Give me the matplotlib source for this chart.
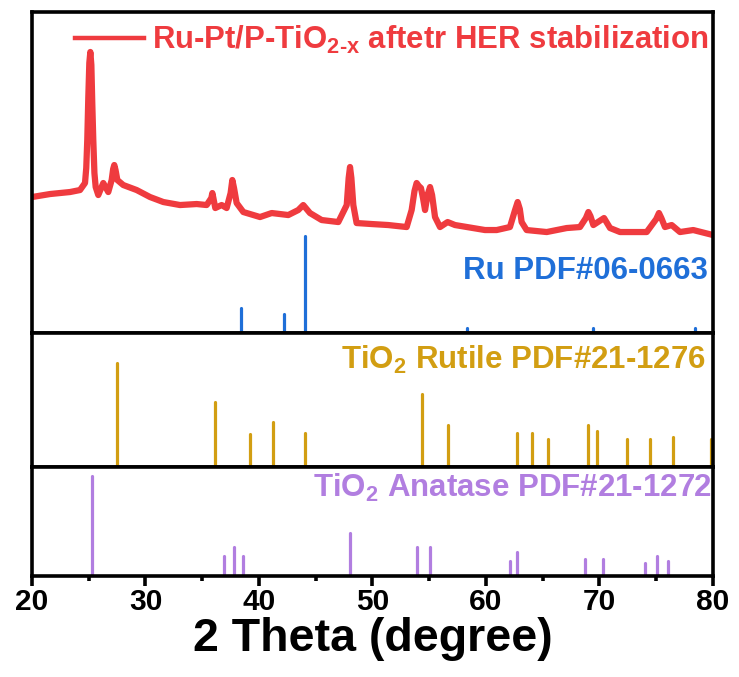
import matplotlib
matplotlib.use("Agg")
import matplotlib.pyplot as plt
from matplotlib.ticker import MultipleLocator

plt.rcParams['font.family'] = ['Liberation Sans', 'DejaVu Sans']
plt.rcParams['font.weight'] = 'bold'
plt.rcParams['mathtext.fontset'] = 'custom'
plt.rcParams['mathtext.rm'] = 'Liberation Sans:bold'
plt.rcParams['mathtext.it'] = 'Liberation Sans:bold'
plt.rcParams['mathtext.bf'] = 'Liberation Sans:bold'

# measured pattern after HER stability test (2theta, intensity a.u.)
xrd_2theta = [20.0, 21.59, 23.35, 24.23, 24.67, 24.78, 24.87, 24.96, 25.05, 25.14,
              25.23, 25.31, 25.4, 25.5, 25.61, 25.84, 26.28, 26.72, 27.02, 27.15,
              27.25, 27.36, 27.52, 28.04, 29.22, 30.40, 31.57, 33.04, 34.51, 35.39,
              35.8, 35.89, 35.98, 36.15, 36.71, 37.15, 37.5, 37.65, 37.8, 38.03,
              38.62, 40.09, 41.12, 42.58, 43.46, 43.9, 44.49, 45.52, 46.99, 47.73,
              47.9, 48.02, 48.14, 48.31, 48.6, 49.93, 51.39, 53.01, 53.45, 53.7,
              53.89, 54.08, 54.27, 54.45, 54.63, 54.85, 55.07, 55.25, 55.51, 55.95,
              56.62, 57.27, 59.91, 60.94, 62.11, 62.56, 62.79, 62.98, 63.14, 63.58,
              65.35, 67.11, 68.28, 68.8, 69.02, 69.2, 69.46, 70.4, 70.93, 71.81,
              74.16, 75.0, 75.24, 75.45, 75.77, 76.36, 77.09, 78.26, 80.0]
xrd_counts = [136, 139, 141, 143, 150, 165, 193, 235, 270, 281,
              268, 230, 193, 160, 146, 138, 150, 141, 153, 164,
              168, 163, 153, 148, 143, 136, 131, 128, 129, 128,
              135, 140, 135, 125, 128, 125, 140, 153, 145, 130,
              121, 116, 120, 118, 123, 128, 120, 113, 111, 128,
              155, 166, 155, 128, 110, 109, 108, 106, 123, 142,
              150, 147, 145, 135, 123, 138, 146, 138, 116, 106,
              111, 108, 103, 103, 106, 123, 131, 124, 111, 103,
              101, 105, 106, 115, 121, 117, 108, 115, 105, 101,
              101, 114, 120, 115, 106, 108, 101, 103, 98]

# reference cards
ru_pos = [38.4, 42.2, 44.05, 58.3, 69.4, 78.4]
ru_int = [25, 19, 97, 5, 5, 5]

rutile_pos = [27.45, 36.09, 39.19, 41.24, 44.05, 54.32, 56.64, 62.74, 64.04,
              65.48, 69.01, 69.79, 72.41, 74.41, 76.51, 79.82]
rutile_int = [104, 65, 33, 45, 34, 73, 42, 34, 34, 28, 42, 36, 28, 28, 30, 28]

anatase_pos = [25.28, 36.95, 37.8, 38.58, 48.05, 53.89, 55.06, 62.12, 62.69,
               68.76, 70.31, 74.03, 75.03, 76.02]
anatase_int = [100, 20, 29, 20, 43, 29, 29, 15, 24, 17, 17, 13, 20, 15]

red = '#EF3B3F'
blue = '#1F6FD8'
gold = '#D29E12'
purple = '#B17EE0'

fig = plt.figure(figsize=(7.39, 6.77), dpi=100)
gs = fig.add_gridspec(3, 1, height_ratios=[321, 134, 109], hspace=0,
                      left=0.0433, right=0.9648, top=0.9823, bottom=0.149)
ax1 = fig.add_subplot(gs[0])
ax2 = fig.add_subplot(gs[1], sharex=ax1)
ax3 = fig.add_subplot(gs[2], sharex=ax1)

ax1.plot(xrd_2theta, xrd_counts, color=red, lw=4.5, solid_joinstyle='round',
         label=r'Ru-Pt/P-TiO$_{\text{2-x}}$ aftetr HER stabilization')
sticks = ax1.vlines(ru_pos, 0, ru_int, color=blue, lw=2.3)
sticks.set_capstyle('round')
ax1.set_ylim(0, 321)
ax1.text(0.993, 54, 'Ru PDF#06-0663', color=blue, fontsize=22.5,
         ha='right', va='baseline', transform=ax1.get_yaxis_transform())
leg = ax1.legend(loc='upper right', bbox_to_anchor=(0.993, 0.962), frameon=False,
                 fontsize=22.4, labelcolor='linecolor', handlelength=2.2,
                 handletextpad=0.25, borderaxespad=0, borderpad=0)
for h in leg.legend_handles:
    h.set_linewidth(3.2)

sticks = ax2.vlines(rutile_pos, 0, rutile_int, color=gold, lw=2.3)
sticks.set_capstyle('round')
ax2.set_ylim(0, 134)
ax2.text(0.99, 98, 'TiO$_2$ Rutile PDF#21-1276', color=gold, fontsize=22.5,
         ha='right', va='baseline', transform=ax2.get_yaxis_transform())

sticks = ax3.vlines(anatase_pos, 0, anatase_int, color=purple, lw=2.3)
sticks.set_capstyle('round')
ax3.set_ylim(0, 109)
ax3.text(0.999, 79, 'TiO$_2$ Anatase PDF#21-1272', color=purple, fontsize=22.5,
         ha='right', va='baseline', transform=ax3.get_yaxis_transform())

for ax in (ax1, ax2, ax3):
    ax.set_yticks([])
    for sp in ax.spines.values():
        sp.set_linewidth(2.6)
    ax.tick_params(axis='x', which='both', bottom=False, labelbottom=False)

ax3.set_xlim(20, 80)
ax3.xaxis.set_major_locator(MultipleLocator(10))
ax3.xaxis.set_minor_locator(MultipleLocator(5))
ax3.tick_params(axis='x', which='both', bottom=True, labelbottom=True,
                direction='out', width=2.6, labelsize=21.5, pad=1.5)
ax3.tick_params(axis='x', which='major', length=7)
ax3.tick_params(axis='x', which='minor', length=3.5)
ax3.set_xlabel('2 Theta (degree)', fontsize=33.5, fontweight='bold', labelpad=1)

fig.savefig('out.png', dpi=100)
